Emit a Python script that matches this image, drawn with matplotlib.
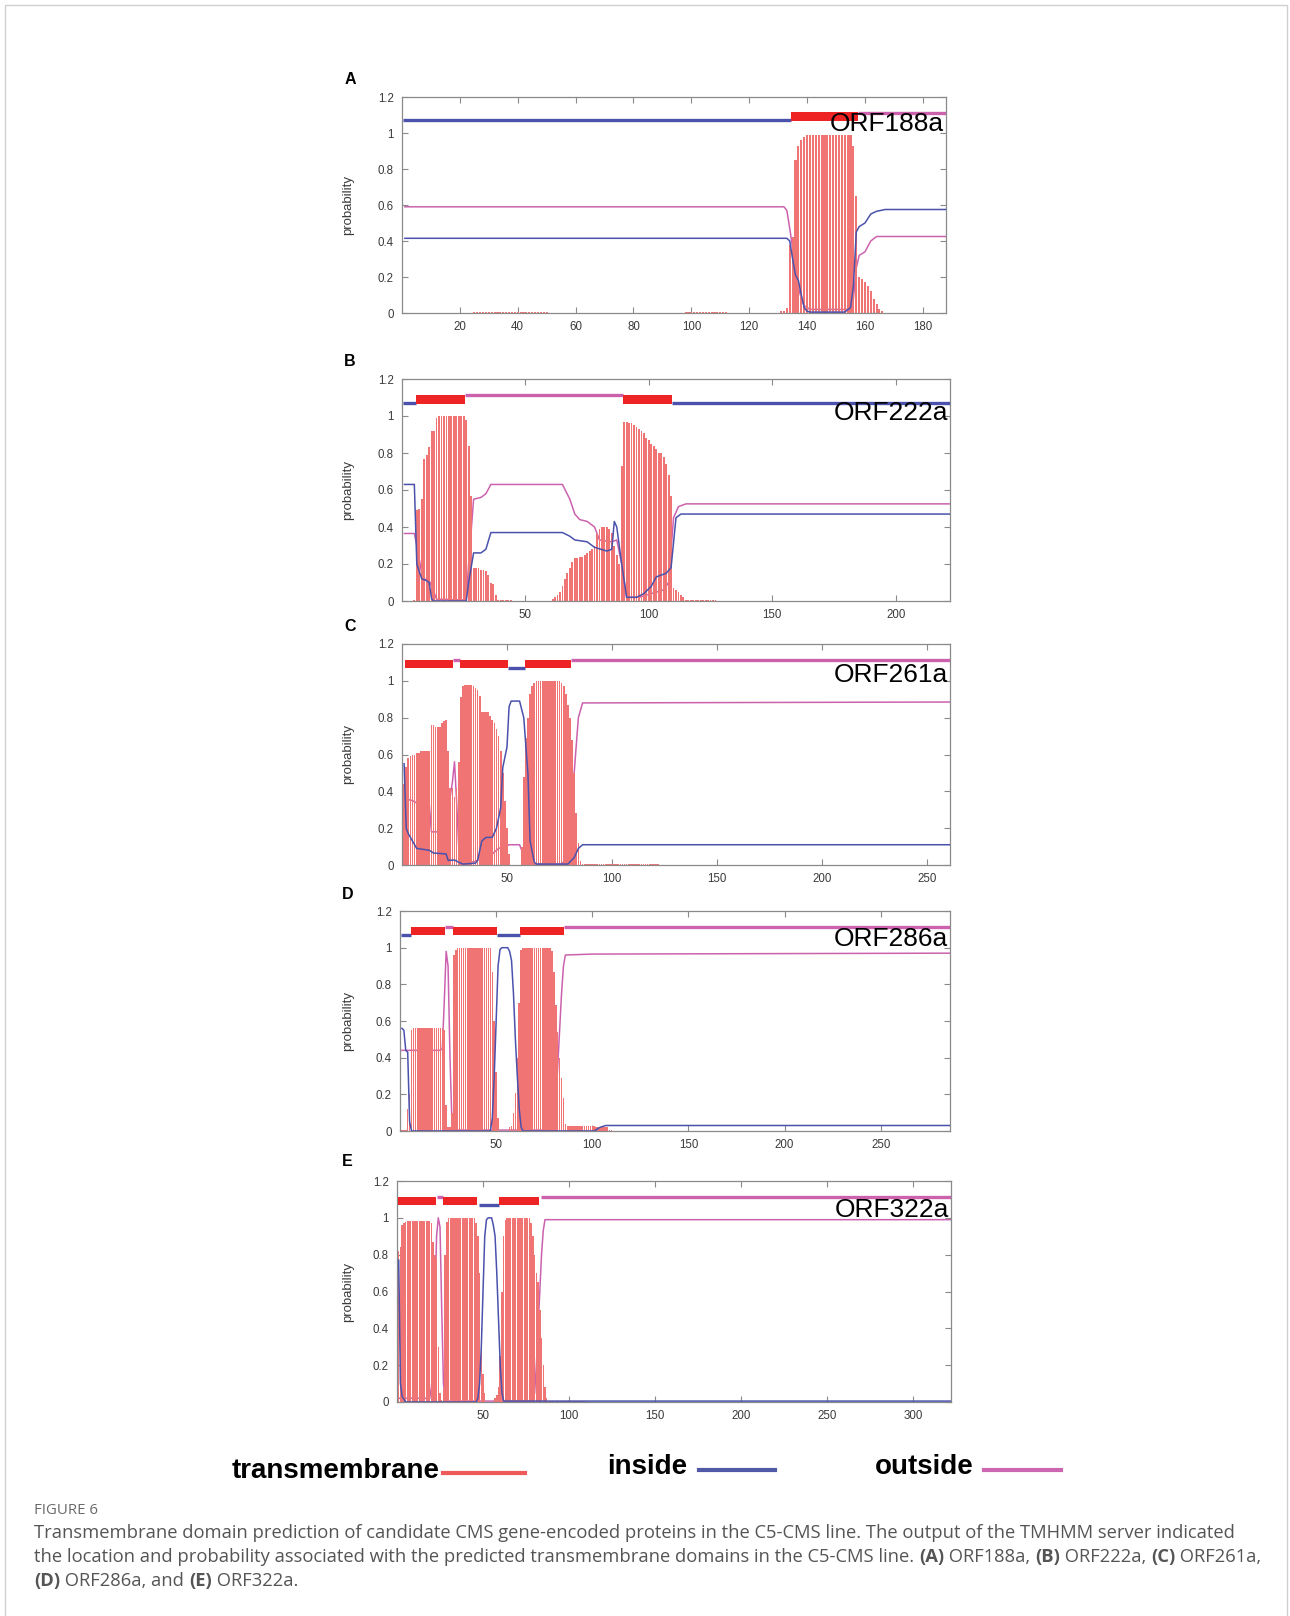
import matplotlib.pyplot as plt
from matplotlib.ticker import FormatStrFormatter
from matplotlib.patches import Rectangle
from matplotlib.lines import Line2D

plt.rcParams['font.family'] = ['Liberation Sans', 'DejaVu Sans']

# ---------------- data ----------------
letters = ["A", "B", "C", "D", "E"]
orf_names = ["ORF188a", "ORF222a", "ORF261a", "ORF286a", "ORF322a"]
lengths = [188, 222, 261, 286, 322]
xtick_sets = [
    [20, 40, 60, 80, 100, 120, 140, 160, 180],
    [50, 100, 150, 200],
    [50, 100, 150, 200, 250],
    [50, 100, 150, 200, 250],
    [50, 100, 150, 200, 250, 300],
]

# predicted topology: (kind, first residue, last residue); i=inside, M=TM helix, o=outside
topo_a = [("i", 1, 134), ("M", 135, 157), ("o", 158, 188)]
topo_b = [("i", 1, 5), ("M", 6, 25), ("o", 26, 89), ("M", 90, 109), ("i", 110, 222)]
topo_c = [("M", 2, 24), ("o", 25, 27), ("M", 28, 50), ("i", 51, 58), ("M", 59, 80), ("o", 81, 261)]
topo_d = [("i", 1, 5), ("M", 6, 23), ("o", 24, 27), ("M", 28, 50), ("i", 51, 62), ("M", 63, 85), ("o", 86, 286)]
topo_e = [("M", 1, 22), ("o", 24, 26), ("M", 27, 46), ("i", 48, 59), ("M", 60, 82), ("o", 84, 322)]

# transmembrane probability per residue (first residue, values)
tm_a_start = 131
tm_a = [0.01, 0.01, 0.03, 0.38, 0.42, 0.85, 0.93, 0.96, 0.98, 0.99,
        0.99, 0.99, 0.99, 0.99, 0.99, 0.99, 0.99, 0.99, 0.99, 0.99,
        0.99, 0.99, 0.99, 0.99, 0.99, 0.93, 0.65, 0.20, 0.19, 0.17,
        0.15, 0.12, 0.08, 0.05, 0.02, 0.01]
low_a = [(25, 50, 0.006), (98, 112, 0.006)]

tm_b_start = 5
tm_b = [0.005, 0.49, 0.50, 0.55, 0.77, 0.79, 0.83, 0.92, 0.92, 0.99,
        1.0, 1.0, 1.0, 1.0, 1.0, 1.0, 1.0, 1.0, 1.0, 1.0,
        1.0, 0.98, 0.84, 0.57, 0.18, 0.18, 0.18, 0.17, 0.17, 0.16,
        0.14, 0.10, 0.09, 0.03]
tm_b2_start = 61
tm_b2 = [0.01, 0.02, 0.03, 0.05, 0.08, 0.12, 0.15, 0.18, 0.21, 0.23,
         0.23, 0.24, 0.24, 0.25, 0.26, 0.27, 0.28, 0.30, 0.36, 0.39,
         0.40, 0.40, 0.40, 0.39, 0.37, 0.30, 0.25, 0.20, 0.73, 0.97,
         0.97, 0.96, 0.96, 0.95, 0.94, 0.93, 0.92, 0.91, 0.88, 0.87,
         0.85, 0.84, 0.82, 0.80, 0.80, 0.78, 0.74, 0.68, 0.57, 0.07,
         0.06, 0.05, 0.03, 0.02]
low_b = [(39, 44, 0.005), (115, 127, 0.005)]

tm_c_start = 1
tm_c = [0.44, 0.53, 0.58, 0.59, 0.60, 0.60, 0.61, 0.61, 0.62, 0.62,
        0.62, 0.62, 0.62, 0.76, 0.76, 0.75, 0.75, 0.75, 0.77, 0.78,
        0.79, 0.62, 0.42, 0.42, 0.37, 0.42, 0.56, 0.91, 0.97, 0.98,
        0.98, 0.98, 0.98, 0.97, 0.96, 0.95, 0.92, 0.83, 0.83, 0.83,
        0.83, 0.81, 0.79, 0.77, 0.74, 0.70, 0.62, 0.50, 0.35, 0.20,
        0.06, 0.0, 0.0, 0.0, 0.0, 0.0, 0.10, 0.48, 0.69, 0.80,
        0.93, 0.97, 0.99, 1.0, 1.0, 1.0, 1.0, 1.0, 1.0, 1.0,
        1.0, 1.0, 1.0, 1.0, 1.0, 0.99, 0.97, 0.93, 0.87, 0.80,
        0.68, 0.50, 0.28, 0.12, 0.02]
low_c = [(86, 122, 0.005)]

tm_d_start = 1
tm_d = [0.005, 0.005, 0.005, 0.12, 0.20, 0.55, 0.56, 0.56, 0.56, 0.56,
        0.56, 0.56, 0.56, 0.56, 0.56, 0.56, 0.56, 0.56, 0.56, 0.56,
        0.56, 0.56, 0.55, 0.14, 0.02, 0.02, 0.10, 0.96, 0.99, 1.0,
        1.0, 1.0, 1.0, 1.0, 1.0, 1.0, 1.0, 1.0, 1.0, 1.0,
        1.0, 1.0, 1.0, 1.0, 1.0, 1.0, 1.0, 0.87, 0.60, 0.32,
        0.07, 0.0, 0.0, 0.0, 0.0, 0.0, 0.02, 0.03, 0.10, 0.21,
        0.40, 0.70, 0.99, 1.0, 1.0, 1.0, 1.0, 1.0, 1.0, 1.0,
        1.0, 1.0, 1.0, 1.0, 1.0, 1.0, 1.0, 1.0, 0.98, 0.87,
        0.69, 0.54, 0.40, 0.29, 0.18, 0.04]
low_d = [(87, 101, 0.03), (102, 108, 0.02), (109, 110, 0.005)]

tm_e_start = 1
tm_e = [0.82, 0.84, 0.96, 0.97, 0.98, 0.985, 0.985, 0.985, 0.985, 0.985,
        0.985, 0.985, 0.985, 0.985, 0.985, 0.985, 0.985, 0.985, 0.985, 0.97,
        0.87, 0.80, 0.78, 0.30, 0.05, 0.01, 0.07, 0.80, 0.98, 1.0,
        1.0, 1.0, 1.0, 1.0, 1.0, 1.0, 1.0, 1.0, 1.0, 1.0,
        1.0, 1.0, 1.0, 1.0, 1.0, 0.97, 0.90, 0.70, 0.40, 0.15,
        0.05, 0.0, 0.0, 0.0, 0.0, 0.0, 0.02, 0.04, 0.08, 0.25,
        0.60, 0.90, 0.99, 1.0, 1.0, 1.0, 1.0, 1.0, 1.0, 1.0,
        1.0, 1.0, 1.0, 1.0, 1.0, 1.0, 1.0, 0.97, 0.90, 0.80,
        0.70, 0.65, 0.50, 0.35, 0.20, 0.08, 0.02]
low_e = [(88, 110, 0.005)]

# inside / outside probability curves (residue, probability)
in_a_x = [1, 133, 134, 135, 136, 137, 138, 139, 140, 141, 153, 155, 156, 157, 158, 160, 162, 164, 167, 188]
in_a_y = [0.415, 0.415, 0.40, 0.30, 0.21, 0.18, 0.10, 0.03, 0.01, 0.005, 0.005, 0.03, 0.15, 0.45, 0.48, 0.50, 0.55, 0.565, 0.575, 0.575]
out_a_x = [1, 132, 133, 134, 135, 136, 137, 138, 139, 141, 154, 156, 157, 158, 160, 162, 164, 188]
out_a_y = [0.59, 0.59, 0.57, 0.47, 0.36, 0.25, 0.14, 0.08, 0.04, 0.02, 0.02, 0.08, 0.25, 0.32, 0.34, 0.40, 0.425, 0.425]

in_b_x = [1, 5, 6, 8, 10, 11, 12, 13, 26, 27, 29, 32, 34, 36, 65, 68, 70, 75, 78, 83, 85, 86, 87, 89, 91, 95, 98, 101, 103, 107, 109, 111, 113, 222]
in_b_y = [0.63, 0.63, 0.2, 0.12, 0.11, 0.10, 0.01, 0.0, 0.0, 0.1, 0.26, 0.26, 0.28, 0.37, 0.37, 0.35, 0.33, 0.32, 0.29, 0.27, 0.28, 0.43, 0.40, 0.2, 0.02, 0.02, 0.04, 0.08, 0.13, 0.15, 0.18, 0.45, 0.47, 0.47]
out_b_x = [1, 5, 6, 8, 9, 11, 12, 14, 26, 27, 29, 32, 34, 36, 65, 68, 70, 72, 75, 78, 80, 85, 87, 89, 91, 96, 101, 106, 108, 110, 112, 115, 222]
out_b_y = [0.365, 0.365, 0.3, 0.15, 0.12, 0.11, 0.08, 0.01, 0.005, 0.2, 0.55, 0.56, 0.58, 0.63, 0.63, 0.55, 0.47, 0.44, 0.43, 0.40, 0.33, 0.32, 0.33, 0.2, 0.02, 0.02, 0.04, 0.06, 0.1, 0.45, 0.51, 0.525, 0.525]

in_c_x = [1, 2, 3, 5, 7, 13, 15, 21, 22, 25, 27, 29, 35, 36, 38, 40, 43, 45, 47, 48, 50, 51, 52, 56, 58, 60, 61, 63, 64, 79, 82, 84, 86, 261]
in_c_y = [0.55, 0.2, 0.17, 0.13, 0.09, 0.08, 0.065, 0.06, 0.025, 0.027, 0.015, 0.005, 0.01, 0.025, 0.13, 0.15, 0.15, 0.2, 0.31, 0.53, 0.64, 0.86, 0.89, 0.89, 0.8, 0.49, 0.13, 0.015, 0.005, 0.005, 0.04, 0.09, 0.11, 0.11]
out_c_x = [1, 5, 8, 13, 14, 20, 22, 24, 25, 26, 27, 28, 30, 35, 38, 43, 46, 49, 51, 56, 57, 59, 62, 76, 78, 80, 82, 84, 86, 261]
out_c_y = [0.36, 0.35, 0.33, 0.33, 0.18, 0.18, 0.3, 0.45, 0.56, 0.35, 0.1, 0.02, 0.01, 0.02, 0.04, 0.06, 0.09, 0.1, 0.11, 0.11, 0.08, 0.03, 0.005, 0.005, 0.03, 0.2, 0.5, 0.8, 0.88, 0.885]

in_d_x = [1, 2, 3, 4, 5, 6, 47, 48, 49, 50, 51, 52, 53, 56, 57, 58, 59, 60, 61, 62, 63, 64, 101, 104, 107, 286]
in_d_y = [0.56, 0.55, 0.44, 0.43, 0.05, 0.0, 0.0, 0.07, 0.3, 0.6, 0.9, 0.99, 1.0, 1.0, 0.98, 0.93, 0.75, 0.5, 0.3, 0.12, 0.02, 0.0, 0.0, 0.02, 0.03, 0.03]
out_d_x = [1, 21, 22, 23, 24, 25, 26, 27, 29, 79, 80, 81, 82, 83, 84, 85, 86, 100, 286]
out_d_y = [0.44, 0.44, 0.45, 0.7, 0.98, 0.9, 0.4, 0.05, 0.005, 0.005, 0.05, 0.15, 0.35, 0.55, 0.75, 0.9, 0.96, 0.965, 0.97]

in_e_x = [1, 2, 3, 5, 46, 47, 48, 49, 50, 51, 52, 53, 55, 56, 57, 58, 59, 60, 61, 62, 322]
in_e_y = [0.77, 0.10, 0.03, 0.0, 0.0, 0.02, 0.1, 0.3, 0.6, 0.9, 0.99, 1.0, 1.0, 0.96, 0.9, 0.7, 0.45, 0.2, 0.05, 0.005, 0.005]
out_e_x = [1, 19, 20, 21, 22, 23, 24, 25, 26, 27, 28, 30, 79, 80, 81, 82, 83, 84, 85, 86, 322]
out_e_y = [0.02, 0.02, 0.08, 0.2, 0.5, 0.9, 1.0, 0.95, 0.5, 0.1, 0.02, 0.005, 0.005, 0.05, 0.2, 0.4, 0.6, 0.8, 0.93, 0.99, 0.99]

legend_labels = ["transmembrane", "inside", "outside"]

caption_head = "FIGURE 6"
caption_lines = [
    [("Transmembrane domain prediction of candidate CMS gene-encoded proteins in the C5-CMS line. The output of the TMHMM server indicated", "normal")],
    [("the location and probability associated with the predicted transmembrane domains in the C5-CMS line. ", "normal"),
     ("(A)", "bold"), (" ORF188a, ", "normal"), ("(B)", "bold"), (" ORF222a, ", "normal"),
     ("(C)", "bold"), (" ORF261a,", "normal")],
    [("(D)", "bold"), (" ORF286a, and ", "normal"), ("(E)", "bold"), (" ORF322a.", "normal")],
]

# ---------------- styling ----------------
TM_BAR = "#f07474"
TM_TOP = "#ee2424"
IN_COL = "#4a52ac"
OUT_COL = "#cc62ae"
FRAME = "#8a8a8a"
CAP_FONT = ["Open Sans", "DejaVu Sans"]

W, H = 1290, 1616
fig = plt.figure(figsize=(W / 100, H / 100), dpi=100)


def fx(px):
    return px / W


def fy(py):
    return 1 - py / H


panels = [
    (topo_a, [(tm_a_start, tm_a)], low_a, (in_a_x, in_a_y), (out_a_x, out_a_y)),
    (topo_b, [(tm_b_start, tm_b), (tm_b2_start, tm_b2)], low_b, (in_b_x, in_b_y), (out_b_x, out_b_y)),
    (topo_c, [(tm_c_start, tm_c)], low_c, (in_c_x, in_c_y), (out_c_x, out_c_y)),
    (topo_d, [(tm_d_start, tm_d)], low_d, (in_d_x, in_d_y), (out_d_x, out_d_y)),
    (topo_e, [(tm_e_start, tm_e)], low_e, (in_e_x, in_e_y), (out_e_x, out_e_y)),
]

# axes boxes in pixels: left, top, right, bottom
boxes = [(402, 97, 946, 313), (402, 379, 950, 601), (402, 644, 950, 865),
         (400, 911, 950, 1131), (397, 1181, 951, 1402)]
label_y = [1.05, 1.015, 1.03, 1.048, 1.045]
letter_pos = [(350, 80), (350, 361), (350, 627), (348, 894), (347, 1162)]
bar_w = [0.72, 0.75, 0.8, 0.82, 0.85]

for k, (topo, tm_runs, lows, inside, outside) in enumerate(panels):
    l, t, r, b = boxes[k]
    ax = fig.add_axes([fx(l), fy(b), fx(r - l), (b - t) / H])
    L = lengths[k]

    # outside curve sits under the impulses, inside curve on top
    ax.plot(outside[0], outside[1], color=OUT_COL, lw=1.1, zorder=1)
    for start, vals in tm_runs:
        xs = list(range(start, start + len(vals)))
        ax.bar(xs, vals, width=bar_w[k], color=TM_BAR, linewidth=0, zorder=2)
    for s, e, v in lows:
        xs = list(range(s, e + 1))
        ax.bar(xs, [v] * len(xs), width=bar_w[k], color=TM_BAR, linewidth=0, zorder=2)
    ax.plot(inside[0], inside[1], color=IN_COL, lw=1.1, zorder=3)

    # topology strip
    for kind, s, e in topo:
        if kind == "M":
            ax.add_patch(Rectangle((s - 0.5, 1.067), e - s + 1, 0.048,
                                   facecolor=TM_TOP, edgecolor="none", zorder=4))
        elif kind == "i":
            ax.plot([s - 0.5, e + 0.5], [1.07, 1.07], color=IN_COL, lw=2.4,
                    solid_capstyle="butt", zorder=4)
        else:
            ax.plot([s - 0.5, e + 0.5], [1.113, 1.113], color=OUT_COL, lw=2.4,
                    solid_capstyle="butt", zorder=4)

    ax.text(0.997, label_y[k], orf_names[k], transform=ax.get_yaxis_transform(),
            ha="right", va="center", fontsize=19, color="black", zorder=5)

    ax.set_xlim(0, L)
    ax.set_ylim(0, 1.2)
    ax.set_xticks(xtick_sets[k])
    ax.set_yticks([0, 0.2, 0.4, 0.6, 0.8, 1.0, 1.2])
    ax.yaxis.set_major_formatter(FormatStrFormatter("%g"))
    ax.tick_params(direction="in", length=4, width=0.8, color=FRAME,
                   top=True, right=True, labelsize=8.3, labelcolor="#3a3a3a", pad=6)
    for sp in ax.spines.values():
        sp.set_color(FRAME)
        sp.set_linewidth(0.9)

    fig.text(fx(348), fy((t + b) / 2), "probability", rotation=90, ha="center",
             va="center", fontsize=9.5, color="#3a3a3a")
    fig.text(fx(letter_pos[k][0]), fy(letter_pos[k][1]), letters[k], ha="center",
             va="center", fontsize=11.5, fontweight="bold")

# legend row
leg_text_right = [440, 687, 974]
leg_line = [(443, 525, 1473), (699, 775, 1470), (984, 1061, 1470)]
leg_cols = ["#ee5a5a", "#5258a8", "#cc66b0"]
leg_text_y = [1471, 1467, 1467]
for i, lab in enumerate(legend_labels):
    fig.text(fx(leg_text_right[i]), fy(leg_text_y[i]), lab, ha="right", va="center",
             fontsize=20, fontweight="bold", color="black")
    x0, x1, yy = leg_line[i]
    fig.add_artist(Line2D([fx(x0), fx(x1)], [fy(yy), fy(yy)], color=leg_cols[i],
                          lw=3, transform=fig.transFigure))

# caption
fig.text(fx(34), fy(1510), caption_head, ha="left", va="center", fontsize=10.8,
         color="#6a6a6a", family=CAP_FONT)
renderer = fig.canvas.get_renderer()
cap_y = [1533, 1557, 1581]
cap_size = 13.2
for line, yy in zip(caption_lines, cap_y):
    x = 34
    for txt, wt in line:
        fig.text(fx(x), fy(yy), txt, ha="left", va="center", fontsize=cap_size,
                 fontweight=wt, color="#555555", family=CAP_FONT)
        probe = fig.text(0, 0, "x" + txt + "x", fontsize=cap_size, fontweight=wt, family=CAP_FONT)
        probe2 = fig.text(0, 0, "xx", fontsize=cap_size, fontweight=wt, family=CAP_FONT)
        x += probe.get_window_extent(renderer).width - probe2.get_window_extent(renderer).width
        probe.remove()
        probe2.remove()

# light frame around the figure panel
fig.add_artist(Rectangle((fx(5), fy(1640)), fx(1282), (1640 - 5) / H,
                         transform=fig.transFigure, fill=False, edgecolor="#d0d0d0", lw=1))

fig.savefig("out.png", dpi=100)
